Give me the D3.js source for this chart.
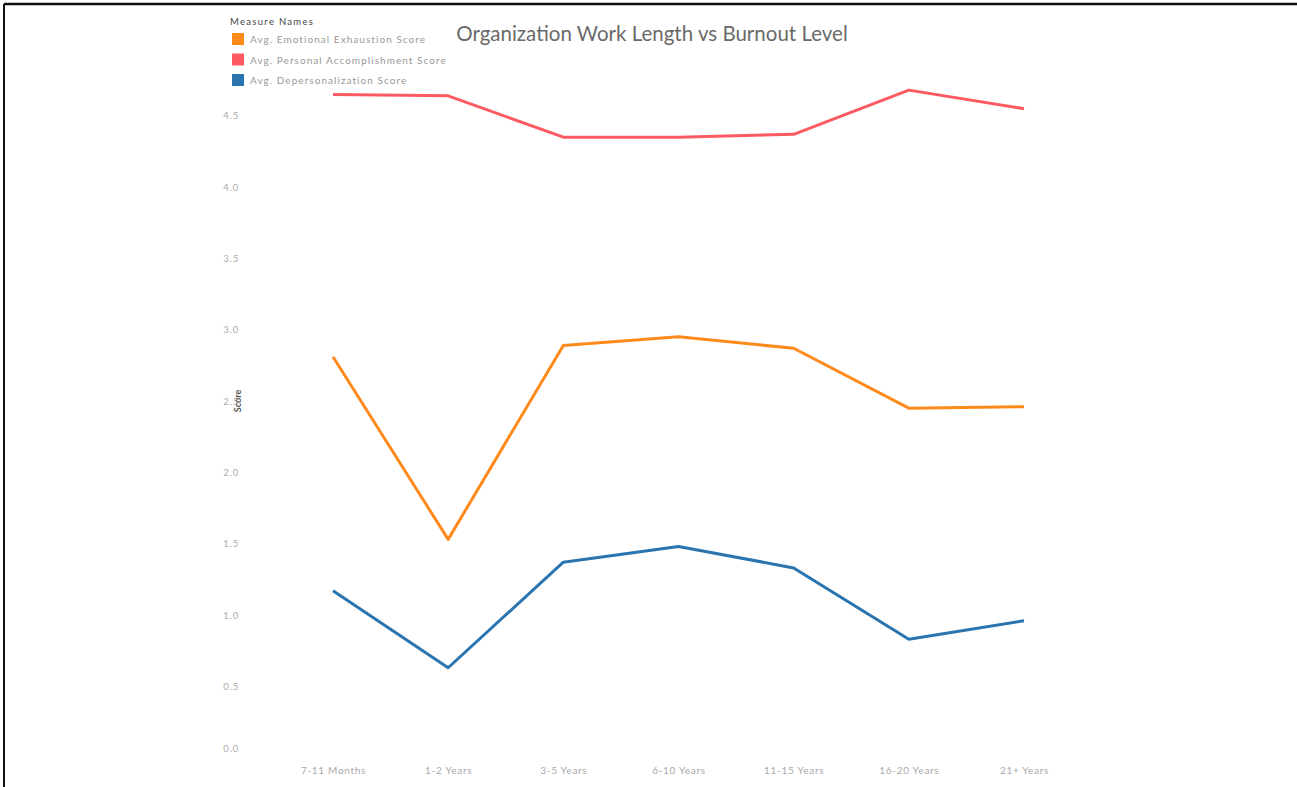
<!DOCTYPE html>
<html>
<head>
<meta charset="utf-8">
<script src="https://cdn.jsdelivr.net/npm/d3@7"></script>
<style>
  body { margin: 0; background: #fff; }
  svg { display: block; }
</style>
</head>
<body>
<script>
// categories on the x axis
const lengths = ["7-11 Months", "1-2 Years", "3-5 Years", "6-10 Years", "11-15 Years", "16-20 Years", "21+ Years"];

// series values
const emotionalExhaustion = [2.81, 1.53, 2.89, 2.95, 2.87, 2.45, 2.46];
const personalAccomplishment = [4.65, 4.64, 4.35, 4.35, 4.37, 4.68, 4.55];
const depersonalization = [1.17, 0.63, 1.37, 1.48, 1.33, 0.83, 0.96];

const measureNames = ["Avg. Emotional Exhaustion Score", "Avg. Personal Accomplishment Score", "Avg. Depersonalization Score"];
const yTicks = [0, 0.5, 1, 1.5, 2, 2.5, 3, 3.5, 4, 4.5];

const series = [
  { name: measureNames[0], values: emotionalExhaustion, color: "#ff8a1c" },
  { name: measureNames[1], values: personalAccomplishment, color: "#fd5a62" },
  { name: measureNames[2], values: depersonalization, color: "#2a74b0" }
];

const width = 1297, height = 787;
const font = "Lato, 'Open Sans', sans-serif";

const svg = d3.select("body").append("svg")
  .attr("width", width)
  .attr("height", height);

// frame lines (top + left)
svg.append("line").attr("x1", 4).attr("x2", width).attr("y1", 4).attr("y2", 4)
  .attr("stroke", "#111").attr("stroke-width", 2.5);
svg.append("line").attr("x1", 4).attr("x2", 4).attr("y1", 4).attr("y2", height)
  .attr("stroke", "#111").attr("stroke-width", 2);

const x = d3.scalePoint()
  .domain(lengths)
  .range([333, 1024]);

const y = d3.scaleLinear()
  .domain([0, 4.8])
  .range([757.6, 73]);

// y axis labels
const yAxis = svg.append("g")
  .attr("transform", "translate(242,0)")
  .call(d3.axisLeft(y).tickValues(yTicks).tickFormat(d3.format(".1f")).tickSize(0).tickPadding(3));
yAxis.select(".domain").remove();
yAxis.selectAll("text")
  .attr("font-family", font)
  .attr("font-size", 9.5)
  .attr("letter-spacing", 0.8)
  .attr("fill", "#aaa")
  .attr("dy", function (d) { return d === 0 ? "-0.6em" : "0.32em"; });

svg.append("text")
  .attr("transform", "translate(241,401) rotate(-90)")
  .attr("text-anchor", "middle")
  .attr("font-family", font)
  .attr("font-size", 9)
  .attr("font-weight", "bold")
  .attr("fill", "#555")
  .text("Score");

// x axis labels
const xAxis = svg.append("g")
  .attr("transform", "translate(0,764)")
  .call(d3.axisBottom(x).tickSize(0).tickPadding(3));
xAxis.select(".domain").remove();
xAxis.selectAll("text")
  .attr("font-family", font)
  .attr("font-size", 10)
  .attr("letter-spacing", 0.7)
  .attr("fill", "#a8a8a8");

// lines
const line = d3.line()
  .x(function (d, i) { return x(lengths[i]); })
  .y(function (d) { return y(d); });

svg.append("g").selectAll("path")
  .data(series)
  .enter().append("path")
  .attr("fill", "none")
  .attr("stroke", function (d) { return d.color; })
  .attr("stroke-width", 3)
  .attr("stroke-linejoin", "round")
  .attr("d", function (d) { return line(d.values); });

// title
svg.append("text")
  .attr("x", 652)
  .attr("y", 41)
  .attr("text-anchor", "middle")
  .attr("font-family", font)
  .attr("font-size", 20.5)
  .attr("fill", "#6a6a6a")
  .text("Organization Work Length vs Burnout Level");

// legend
const legend = svg.append("g").attr("transform", "translate(230,0)");
legend.append("text")
  .attr("x", 0).attr("y", 25)
  .attr("font-family", font)
  .attr("font-size", 9.5)
  .attr("letter-spacing", 1.3)
  .attr("fill", "#444")
  .text("Measure Names");

const items = legend.selectAll("g.item")
  .data(series)
  .enter().append("g")
  .attr("class", "item")
  .attr("transform", function (d, i) { return "translate(0," + (33 + i * 20.5) + ")"; });

items.append("rect")
  .attr("x", 2).attr("y", 0)
  .attr("width", 12).attr("height", 12)
  .attr("fill", function (d) { return d.color; });

items.append("text")
  .attr("x", 20).attr("y", 10)
  .attr("font-family", font)
  .attr("font-size", 10)
  .attr("letter-spacing", 1.05)
  .attr("fill", "#999")
  .text(function (d) { return d.name; });
</script>
</body>
</html>
